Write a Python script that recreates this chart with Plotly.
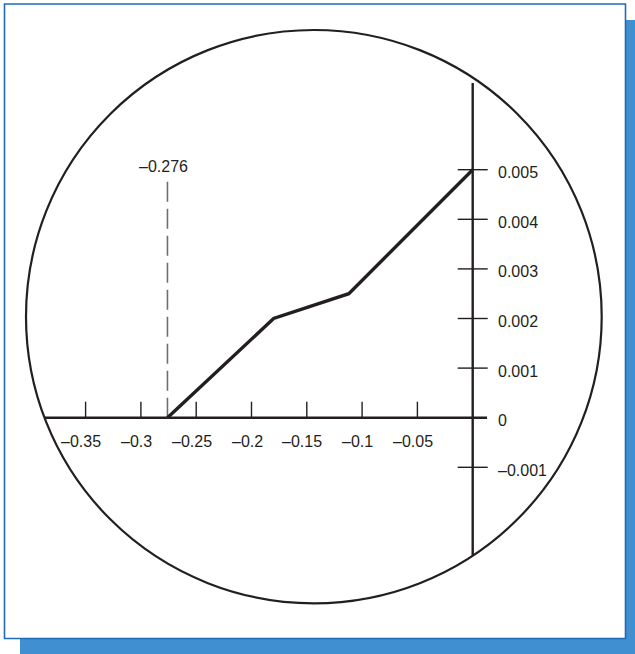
import plotly.graph_objects as go

# values
x_ticks = [-0.35, -0.3, -0.25, -0.2, -0.15, -0.1, -0.05]
x_tick_labels = ["–0.35", "–0.3", "–0.25", "–0.2", "–0.15", "–0.1", "–0.05"]
y_ticks = [-0.001, 0.001, 0.002, 0.003, 0.004, 0.005]
y_label_values = [-0.001, 0, 0.001, 0.002, 0.003, 0.004, 0.005]
y_tick_labels = ["–0.001", "0", "0.001", "0.002", "0.003", "0.004", "0.005"]

curve_x = [-0.276, -0.18, -0.112, 0.0]
curve_y = [0.0, 0.002, 0.0025, 0.005]

root_x = -0.276
root_top = 0.0048
root_label = "–0.276"

x_axis_span = [-0.387, 0.013]
y_axis_span = [-0.00277, 0.00675]

W, H = 635, 654
x_range = [-0.4274, 0.14675]
y_range = [-0.0047641, 0.0084214]
px_x = W / (x_range[1] - x_range[0])
px_y = H / (y_range[1] - y_range[0])

ink = "#231f20"
font = dict(family="Liberation Sans, Arial, sans-serif", size=16, color=ink)

fig = go.Figure()

# x tick marks (above the axis only)
tx, ty = [], []
for t in x_ticks:
    tx += [t, t, None]
    ty += [0, 16 / px_y, None]
fig.add_trace(go.Scatter(x=tx, y=ty, mode="lines",
                         line=dict(color=ink, width=1.4), hoverinfo="skip"))

# y tick marks (crossing the axis)
tx, ty = [], []
for t in y_ticks:
    tx += [-15 / px_x, 15 / px_x, None]
    ty += [t, t, None]
fig.add_trace(go.Scatter(x=tx, y=ty, mode="lines",
                         line=dict(color=ink, width=1.4), hoverinfo="skip"))

# axes
fig.add_trace(go.Scatter(x=x_axis_span, y=[0, 0], mode="lines",
                         line=dict(color=ink, width=2.4), hoverinfo="skip"))
fig.add_trace(go.Scatter(x=[0, 0], y=y_axis_span, mode="lines",
                         line=dict(color=ink, width=2.4), hoverinfo="skip"))

# dashed marker at the root
fig.add_trace(go.Scatter(x=[root_x, root_x], y=[0, root_top], mode="lines",
                         line=dict(color="#6d6e71", width=1.6, dash="20px,7px"),
                         hoverinfo="skip"))

# the curve
fig.add_trace(go.Scatter(x=curve_x, y=curve_y, mode="lines",
                         line=dict(color=ink, width=3.4), hoverinfo="skip"))

annotations = []
for t, lab in zip(x_ticks, x_tick_labels):
    annotations.append(dict(x=t, y=0, text=lab, showarrow=False, font=font,
                            xanchor="center", yanchor="middle",
                            xshift=-4.5, yshift=-24))
for t, lab in zip(y_label_values, y_tick_labels):
    annotations.append(dict(x=0, y=t, text=lab, showarrow=False, font=font,
                            xanchor="left", yanchor="middle",
                            xshift=23, yshift=-3))
annotations.append(dict(x=root_x, y=root_top, text=root_label, showarrow=False,
                        font=font, xanchor="center", yanchor="middle",
                        xshift=-3.5, yshift=13))

shapes = [
    # drop shadow
    dict(type="rect", xref="paper", yref="paper", layer="below",
         x0=20 / W, x1=1.05, y0=-0.05, y1=1 - 20 / H,
         fillcolor="#3f8fd1", line=dict(width=0)),
    # white panel
    dict(type="rect", xref="paper", yref="paper", layer="below",
         x0=4.5 / W, x1=625.5 / W, y0=1 - 638.5 / H, y1=1 - 4 / H,
         fillcolor="white", line=dict(color="#1f6cb6", width=1.6)),
    # circular frame
    dict(type="circle", xref="paper", yref="paper", layer="below",
         x0=26 / W, x1=601.7 / W, y0=1 - 603.3 / H, y1=1 - 30 / H,
         line=dict(color=ink, width=2.2)),
]

fig.update_layout(
    width=W, height=H,
    margin=dict(l=0, r=0, t=0, b=0),
    paper_bgcolor="white", plot_bgcolor="white",
    showlegend=False,
    xaxis=dict(range=x_range, visible=False, fixedrange=True),
    yaxis=dict(range=y_range, visible=False, fixedrange=True),
    annotations=annotations,
    shapes=shapes,
)

fig.write_html("out.html", config={"displayModeBar": False},
               post_script="document.body.style.margin = '0';")
